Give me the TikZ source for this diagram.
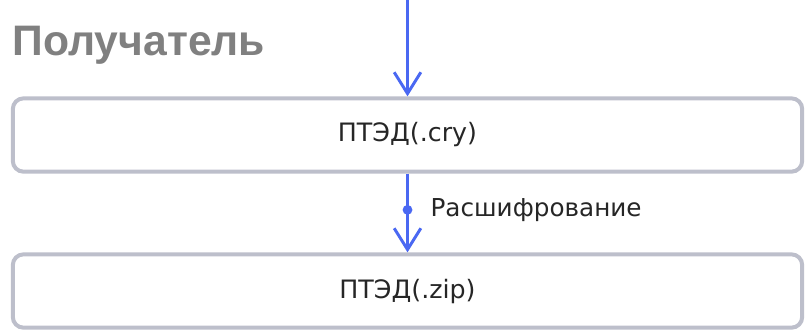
\documentclass[tikz,border=0pt]{standalone}
\usepackage{fontspec}
\setmainfont{DejaVu Sans}
\newfontfamily\titlefont{Liberation Sans}
\usetikzlibrary{arrows.meta,positioning}
\definecolor{flowblue}{HTML}{4A68F2}
\definecolor{boxgrey}{HTML}{BDBFCB}
\definecolor{titlegrey}{HTML}{808080}

\begin{document}
\begin{tikzpicture}[x=0.75pt, y=-0.75pt,
      box/.style = {shape=rectangle, rounded corners=8pt, draw=boxgrey,
        line width=3pt, minimum width=592pt, minimum height=55pt,
        font=\fontsize{19pt}{21pt}\selectfont, text=black!85},
      flow/.style = {draw=flowblue, line width=2.2pt,
        -{Straight Barb[length=16pt,width=20pt,line width=2.2pt]}}]
    \useasboundingbox (0,0) rectangle (805,330);
    \node[anchor=west, font=\titlefont\bfseries\fontsize{32pt}{34pt}\selectfont,
      text=titlegrey] (title) at (8,45) {Получатель};
    \node[box] (cry) at (407.5,135) {ПТЭД(.cry)};
    \node[box] (zip) at (407.5,291) {ПТЭД(.zip)};
    \coordinate (top) at (407.5,0);
    \draw[flow] (top) -- (cry.north);
    \draw[flow] (cry.south) -- (zip.north)
      node[pos=0.46, circle, fill=flowblue, inner sep=2.6pt] (mid) {};
    \node[right=9pt of mid, font=\fontsize{18.5pt}{20pt}\selectfont,
      text=black!85] (decrypt) {Расшифрование};
\end{tikzpicture}
\end{document}
